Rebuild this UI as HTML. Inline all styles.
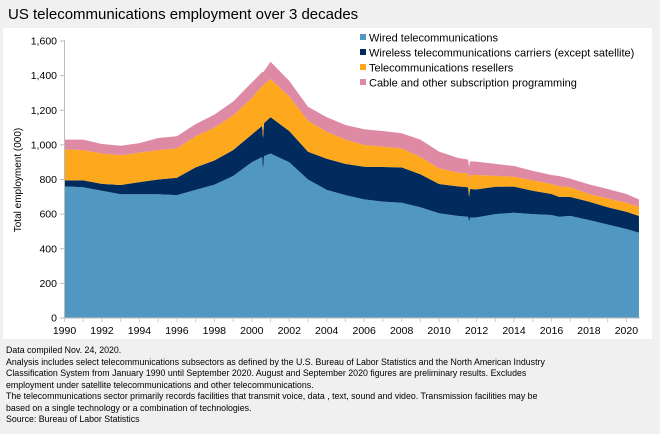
<!DOCTYPE html>
<html><head><meta charset="utf-8"><style>
body{margin:0;width:660px;height:434px;background:#f0f0f0;font-family:"Liberation Sans",sans-serif;overflow:hidden;position:relative}
#title{position:absolute;left:8px;top:6px;font-size:15px;color:#000}
#panel{position:absolute;left:3px;top:28px;width:649px;height:311px;background:#fff}
#foot{position:absolute;left:6px;top:345px;font-size:8.8px;line-height:11.5px;color:#000;width:556px}
svg{position:absolute;left:0;top:0}
</style></head><body>
<div id="title">US telecommunications employment over 3 decades</div>
<div id="panel"></div>
<svg id="chart" width="660" height="434"></svg>
<div id="foot">Data compiled Nov. 24, 2020.<br>Analysis includes select telecommunications subsectors as defined by the U.S. Bureau of Labor Statistics and the North American Industry Classification System from January 1990 until September 2020. August and September 2020 figures are preliminary results. Excludes employment under satellite telecommunications and other telecommunications.<br>The telecommunications sector primarily records facilities that transmit voice, data , text, sound and video. Transmission facilities may be based on a single technology or a combination of technologies.<br>Source: Bureau of Labor Statistics</div>
<script>
const years=[1990,1991,1992,1993,1994,1995,1996,1997,1998,1999,2000,2000.55,2000.6,2000.65,2001,2002,2003,2004,2005,2006,2007,2008,2009,2010,2011,2011.55,2011.6,2011.65,2012,2013,2014,2015,2016,2016.4,2017,2018,2019,2020,2020.67];
const wired=[760,755,735,715,715,715,710,740,770,820,900,930,850,935,950,900,800,740,710,685,672,666,640,605,590,585,555,580,581,600,608,600,595,585,590,566,540,514,493];
const wireless=[35,40,40,53,70,85,100,130,140,150,160,180,190,190,210,180,160,180,180,189,200,204,190,169,170,170,145,165,162,158,151,135,121,115,110,106,100,100,96];
const resellers=[180,175,175,172,170,170,170,180,190,200,210,230,300,225,220,200,180,155,140,125,118,110,100,91,80,80,100,80,83,64,57,60,58,60,55,44,50,52,54];
const cable=[55,60,55,55,55,70,70,70,75,80,90,80,80,75,100,90,80,85,85,91,90,87,100,96,85,80,70,80,77,68,62,55,52,60,50,56,55,50,42];
const series=[{name:'Wired telecommunications',vals:wired,color:'#5097c2'},{name:'Wireless telecommunications carriers (except satellite)',vals:wireless,color:'#002b5c'},{name:'Telecommunications resellers',vals:resellers,color:'#fda81d'},{name:'Cable and other subscription programming',vals:cable,color:'#de8aa4'}];
const yTicks=[0,200,400,600,800,1000,1200,1400,1600];
const xTicks=[1990,1992,1994,1996,1998,2000,2002,2004,2006,2008,2010,2012,2014,2016,2018,2020];
const NS='http://www.w3.org/2000/svg';
const svg=document.getElementById('chart');
const X=v=>64.5+(v-1990)*18.73;
const Y=v=>318-v*277/1600;
function mk(t,a){const e=document.createElementNS(NS,t);for(const k in a)e.setAttribute(k,a[k]);svg.appendChild(e);return e;}
let base=years.map(()=>0);
series.forEach((s,si)=>{
  const top=base.map((b,i)=>b+s.vals[i]);
  let d='M'+years.map((y,i)=>X(y)+','+Y(top[i])).join('L');
  for(let i=years.length-1;i>=0;i--)d+='L'+X(years[i])+','+Y(base[i]);
  const p=mk('path',{d:d+'Z',fill:s.color});
  
  
  base=top;
});
mk('line',{x1:64.5,y1:40,x2:64.5,y2:318,stroke:'#bbb'});
mk('line',{x1:64.5,y1:318,x2:640,y2:318,stroke:'#bbb'});
yTicks.forEach(v=>{
  mk('line',{x1:60,x2:64.5,y1:Y(v),y2:Y(v),stroke:'#bbb'});
  const t=mk('text',{x:57,y:Y(v)+3.5,'text-anchor':'end','font-size':'10.5','font-family':'Liberation Sans, sans-serif'});
  t.textContent=v.toLocaleString('en-US');
  
  
});
for(let y=1990;y<=2020;y++)mk('line',{x1:X(y),x2:X(y),y1:318,y2:322,stroke:'#ccc'});
xTicks.forEach(v=>{
  const t=mk('text',{x:X(v),y:334,'text-anchor':'middle','font-size':'10.5','font-family':'Liberation Sans, sans-serif'});
  t.textContent=v;
  
  
});
const yt=mk('text',{x:0,y:0,transform:'translate(21,180) rotate(-90)','text-anchor':'middle','font-size':'10','font-family':'Liberation Sans, sans-serif'});
yt.textContent='Total employment (000)';


series.forEach((s,i)=>{
  const yy=38+i*15;
  const r=mk('rect',{x:360,y:yy-4,width:6,height:6,fill:s.color});
  
  
  const t=mk('text',{x:369,y:yy+3.5,'font-size':'11','font-family':'Liberation Sans, sans-serif'});
  t.textContent=s.name;
  
  
});
</script>
</body></html>
